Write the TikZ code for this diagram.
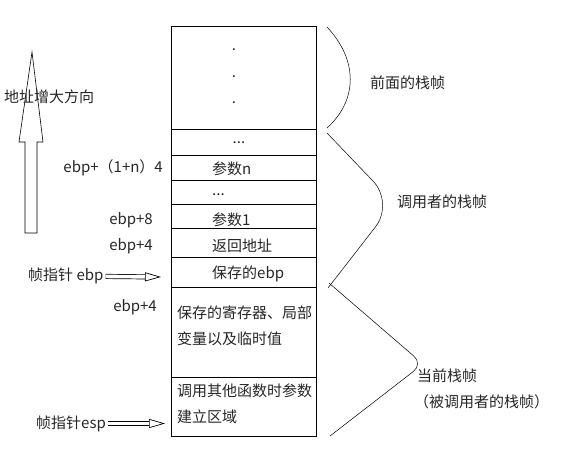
\documentclass[tikz,border=0pt]{standalone}
\usepackage{fontspec}
\newfontfamily\cjk{Noto Sans CJK SC}
\usetikzlibrary{arrows.meta}
\tikzset{every node/.style={font=\fontsize{15}{26}\selectfont\cjk, inner sep=0pt}}
\colorlet{stackcol}{black}
\colorlet{bracecol}{black}
\colorlet{labelcol}{black!85!white}
\tikzset{
  stackline/.style={line width=0.8pt, stackcol},
  bracelink/.style={line width=0.5pt, bracecol},
  hollow/.style={double, double distance=3.6pt, line width=0.7pt,
    -{Triangle[open, length=16pt, width=9pt]}, shorten <=2pt},
}

\begin{document}
\begin{tikzpicture}[x=1pt, y=-1pt, >=Stealth]

  \useasboundingbox (0,0) rectangle (564,464);

  % Stack cells.
  \draw[stackline] (171,26) rectangle (316,436);
  \foreach \y in {129,155,180,204,228,257,287,377} {
    \draw[stackline] (171,\y) -- (316,\y);
  }

  % Vertical dots in the top cell.
  \foreach \y [count=\i] in {50,77,103} {
    \node[text=labelcol] (vdot\i) at (234,\y) {.};
  }

  % Cell contents.
  \node[text=labelcol] (hdots1) at (239,143) {...};
  \node[anchor=west, text=labelcol] (argn) at (212,169) {参数n};
  \node[anchor=west, text=labelcol] (hdots2) at (212,195) {...};
  \node[anchor=west, text=labelcol] (argone) at (212,220) {参数1};
  \node[anchor=west, text=labelcol] (retaddr) at (212,246) {返回地址};
  \node[anchor=west, text=labelcol] (savedebp) at (212,274) {保存的ebp};
  \node[anchor=base west, align=left, text=labelcol] (locals) at (177,344)
    {保存的寄存器、局部\\变量以及临时值};
  \node[anchor=base west, align=left, text=labelcol] (argarea) at (177,422)
    {调用其他函数时参数\\建立区域};

  % Offsets on the left.
  \node[anchor=east, text=labelcol] (offn) at (163,168) {ebp+（1+n）4};
  \node[anchor=east, text=labelcol] (offeight) at (153,220) {ebp+8};
  \node[anchor=east, text=labelcol] (offfour) at (153,246) {ebp+4};
  \node[anchor=east, text=labelcol] (offlocal) at (157,307) {ebp+4};

  % Address direction arrow.
  \draw[line width=0.6pt] (32,52) -- (43,142) -- (37,142) -- (37,233)
    -- (25,233) -- (25,142) -- (19,142) -- cycle;
  \node[anchor=west, text=labelcol] (updir) at (4,97) {地址增大方向};

  % Frame pointers.
  \node[anchor=west, text=labelcol] (ebpptr) at (28,276) {帧指针 ebp};
  \node[anchor=west, text=labelcol] (espptr) at (36,424) {帧指针esp};
  \coordinate (ebptip) at (161,277);
  \coordinate (esptip) at (165,423.5);
  \draw[hollow] (ebpptr) -- (ebptip);
  \draw[hollow] (espptr.east |- esptip) -- (esptip);

  % Frame braces.
  \draw[bracelink] (327,27) .. controls (358,60) and (358,100) .. (327,128);
  \draw[bracelink, rounded corners=30] (327,133) -- (394,203) -- (328,288);
  \draw[bracelink, rounded corners=12] (329,283) -- (423,364) -- (330,436);

  % Frame names.
  \node[anchor=west, text=labelcol] (prevframe) at (370,83) {前面的栈帧};
  \node[anchor=west, text=labelcol] (callerframe) at (397,202) {调用者的栈帧};
  \node[anchor=west, text=labelcol] (curframe) at (417,376) {当前栈帧};
  \node[anchor=west, text=labelcol] (calleeframe) at (414,402) {（被调用者的栈帧）};

\end{tikzpicture}
\end{document}
